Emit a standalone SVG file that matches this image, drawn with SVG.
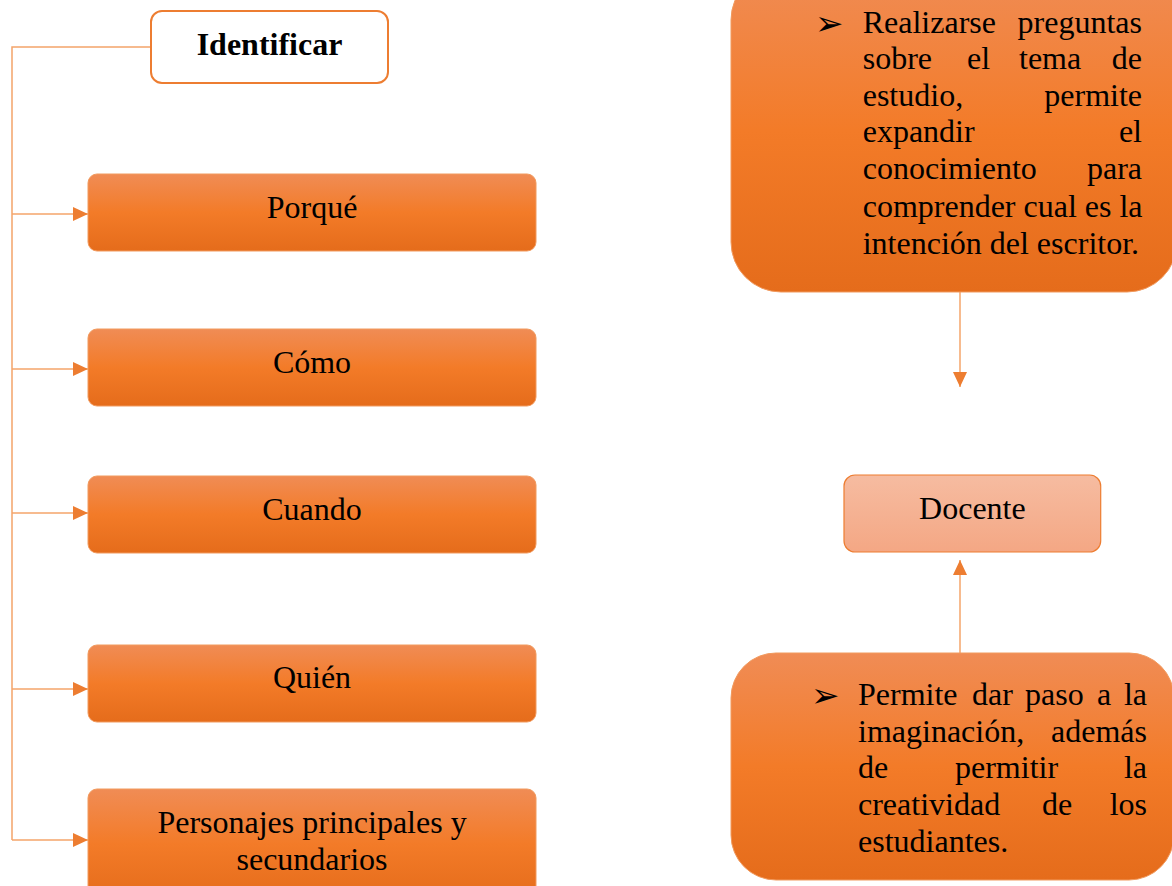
<svg xmlns="http://www.w3.org/2000/svg" width="1172" height="886" viewBox="0 0 1172 886">
<defs>
<linearGradient id="og" x1="0" y1="0" x2="0" y2="1">
<stop offset="0" stop-color="#F08C55"/>
<stop offset="0.5" stop-color="#F37B28"/>
<stop offset="1" stop-color="#E56C1B"/>
</linearGradient>
<linearGradient id="lg" x1="0" y1="0" x2="0" y2="1">
<stop offset="0" stop-color="#F6BCA1"/>
<stop offset="1" stop-color="#F4A784"/>
</linearGradient>
<marker id="ah" markerWidth="16" markerHeight="14" refX="15" refY="7" orient="auto" markerUnits="userSpaceOnUse">
<path d="M0,0 L15,7 L0,14 Z" fill="#ED7D31"/>
</marker>
<style>
.t{font-family:"Liberation Serif","Times New Roman",serif;font-size:32px;fill:#000}
.b{font-family:"DejaVu Sans",sans-serif;font-size:34px;fill:#000}
.ob{fill:url(#og);stroke:#F19A5E;stroke-width:1}
.ln{fill:none;stroke:#F4A46A;stroke-width:1.5}
</style>
</defs>
<g id="connectors">
<path class="ln" d="M151,47 H12 V840"/>
<path class="ln" d="M12,214 H88" marker-end="url(#ah)"/>
<path class="ln" d="M12,369 H88" marker-end="url(#ah)"/>
<path class="ln" d="M12,513 H88" marker-end="url(#ah)"/>
<path class="ln" d="M12,689 H88" marker-end="url(#ah)"/>
<path class="ln" d="M12,840 H88" marker-end="url(#ah)"/>
<path class="ln" d="M960,292 V387" marker-end="url(#ah)"/>
<path class="ln" d="M960,653 V560" marker-end="url(#ah)"/>
</g>
<g id="identificar">
<rect x="151" y="11" width="237" height="72" rx="11" fill="#fff" stroke="#ED7D31" stroke-width="2"/>
<text class="t" x="269.5" y="55" text-anchor="middle" font-weight="bold">Identificar</text>
</g>
<g id="porque">
<rect class="ob" x="88" y="174" width="448" height="77" rx="9"/>
<text class="t" x="312" y="218" text-anchor="middle">Porqué</text>
</g>
<g id="como">
<rect class="ob" x="88" y="329" width="448" height="77" rx="9"/>
<text class="t" x="312" y="373" text-anchor="middle">Cómo</text>
</g>
<g id="cuando">
<rect class="ob" x="88" y="476" width="448" height="77" rx="9"/>
<text class="t" x="312" y="520" text-anchor="middle">Cuando</text>
</g>
<g id="quien">
<rect class="ob" x="88" y="645" width="448" height="77" rx="9"/>
<text class="t" x="312" y="688" text-anchor="middle">Quién</text>
</g>
<g id="personajes">
<rect class="ob" x="88" y="789" width="448" height="110" rx="9"/>
<text class="t" x="312" y="833" text-anchor="middle">Personajes principales y</text>
<text class="t" x="312" y="870" text-anchor="middle">secundarios</text>
</g>
<g id="preguntas">
<rect class="ob" x="731" y="-30" width="446" height="322" rx="50"/>
<text class="b" x="815" y="35">➢</text>
<text class="t" y="33"><tspan x="862.7">Realizarse</tspan><tspan x="1142" text-anchor="end">preguntas</tspan></text>
<text class="t" y="69"><tspan x="862.7">sobre</tspan><tspan x="967">el</tspan><tspan x="1019">tema</tspan><tspan x="1142" text-anchor="end">de</tspan></text>
<text class="t" y="106"><tspan x="862.7">estudio,</tspan><tspan x="1142" text-anchor="end">permite</tspan></text>
<text class="t" y="142"><tspan x="862.7">expandir</tspan><tspan x="1142" text-anchor="end">el</tspan></text>
<text class="t" y="179"><tspan x="862.7">conocimiento</tspan><tspan x="1142" text-anchor="end">para</tspan></text>
<text class="t" x="862.7" y="217">comprender cual es la</text>
<text class="t" x="862.7" y="254">intención del escritor.</text>
</g>
<g id="docente">
<rect x="844" y="475" width="256.7" height="77" rx="11" fill="url(#lg)" stroke="#ED7D31" stroke-width="1.2"/>
<text class="t" x="972.4" y="519" text-anchor="middle">Docente</text>
</g>
<g id="imaginacion">
<rect class="ob" x="731" y="653" width="443" height="227" rx="45"/>
<text class="b" x="811" y="707">➢</text>
<text class="t" y="705"><tspan x="858">Permite</tspan><tspan x="972">dar</tspan><tspan x="1025">paso</tspan><tspan x="1097">a</tspan><tspan x="1147" text-anchor="end">la</tspan></text>
<text class="t" y="742"><tspan x="858">imaginación,</tspan><tspan x="1147" text-anchor="end">además</tspan></text>
<text class="t" y="778"><tspan x="858">de</tspan><tspan x="955">permitir</tspan><tspan x="1147" text-anchor="end">la</tspan></text>
<text class="t" y="815"><tspan x="858">creatividad</tspan><tspan x="1042">de</tspan><tspan x="1147" text-anchor="end">los</tspan></text>
<text class="t" x="858" y="852">estudiantes.</text>
</g>
</svg>
